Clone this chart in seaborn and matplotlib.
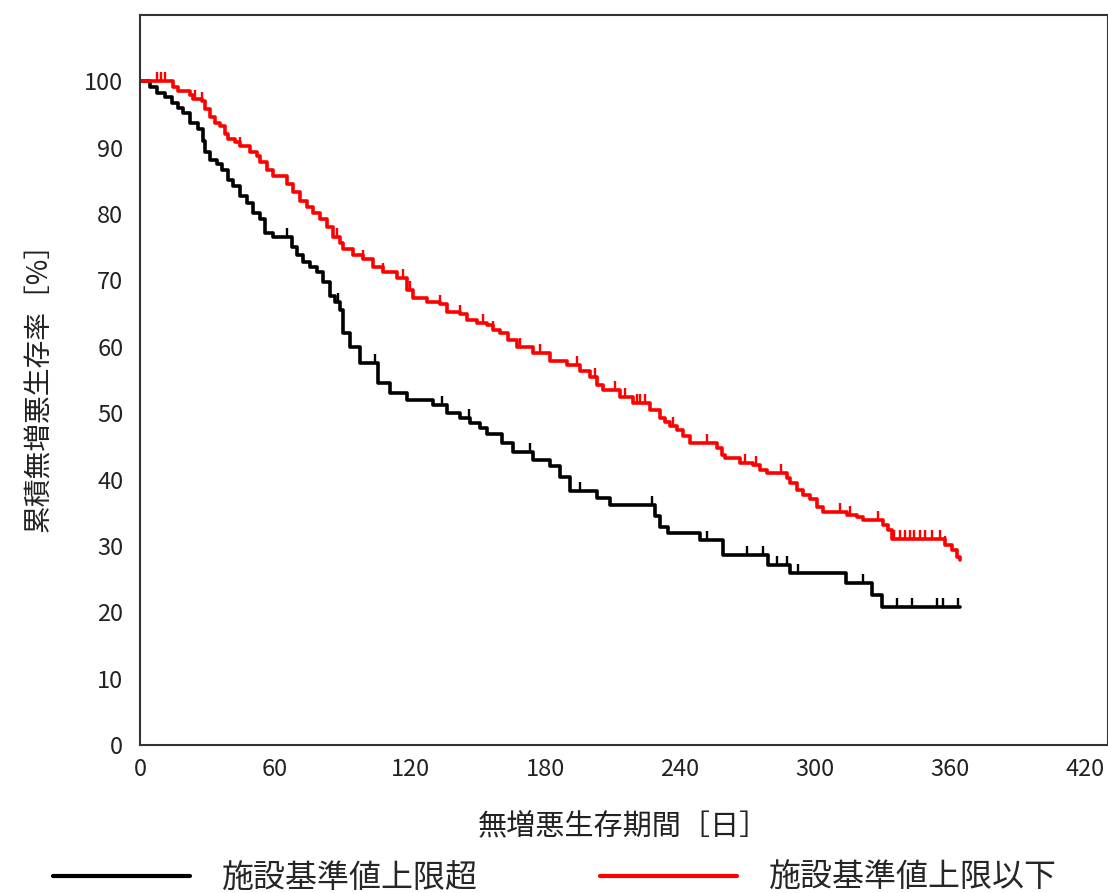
import numpy as np
import pandas as pd
import matplotlib
matplotlib.use("Agg")
import matplotlib.pyplot as plt
from matplotlib.lines import Line2D
import seaborn as sns

# ---- data ----
black_label = "施設基準値上限超"
red_label = "施設基準値上限以下"

black_t = [0, 4.4, 7.6, 11.1, 14.2, 16.9, 19.1, 22.2, 25.8, 28.0, 28.9, 31.1, 34.2, 36.4, 39.1,
           41.3, 44.4, 47.6, 50.2, 53.3, 55.6, 59.1, 67.6, 69.8, 72.4, 75.6, 78.7, 81.3, 84.4,
           86.7, 88.9, 90.2, 93.3, 97.8, 105.8, 111.1, 118.7, 130.2, 136.4, 142.2, 146.7, 151.1,
           154.2, 160.9, 165.8, 174.7, 182.2, 186.7, 191.1, 203.1, 208.9, 228.9, 231.1, 234.7,
           248.9, 259.1, 279.1, 288.9, 313.8, 325.3, 329.8, 364.4]
black_s = [100, 99.2, 98.3, 97.6, 96.8, 96.0, 95.3, 93.8, 92.8, 91.0, 89.3, 88.2, 87.5, 86.7, 85.2,
           84.2, 82.7, 81.7, 80.2, 79.2, 77.2, 76.5, 75.1, 73.9, 72.8, 72.0, 71.2, 69.8, 67.6,
           66.8, 65.6, 62.1, 60.0, 57.6, 54.6, 53.1, 52.0, 51.3, 50.1, 49.3, 48.5, 47.8,
           46.8, 45.5, 44.2, 43.0, 42.0, 40.4, 38.2, 37.2, 36.2, 34.5, 32.9, 32.0,
           30.9, 28.7, 27.1, 25.9, 24.4, 22.6, 20.8, 20.8]
black_cens = [65.3, 88.0, 104.4, 134.2, 146.0, 173.3, 195.6, 227.6, 252.0, 269.8, 276.9, 283.1,
              287.6, 292.4, 321.3, 336.4, 343.1, 354.2, 356.9, 363.6]

red_t = [0, 14.7, 16.9, 22.2, 23.6, 27.6, 28.9, 31.1, 33.3, 35.6, 37.8, 39.1, 42.2, 44.4, 48.9,
         52.0, 53.3, 56.4, 59.1, 65.3, 68.0, 71.1, 74.2, 76.9, 80.0, 83.1, 85.8, 88.9, 90.2,
         94.7, 99.1, 103.6, 108.0, 114.2, 118.7, 121.3, 127.6, 133.3, 136.4, 142.2, 145.3,
         149.8, 154.2, 156.9, 160.0, 163.6, 167.6, 174.7, 182.2, 189.8, 195.6, 200.0, 203.1,
         205.8, 213.3, 219.1, 226.7, 231.1, 233.3, 235.6, 238.7, 241.3, 244.4, 256.4, 258.7,
         260.0, 266.7, 272.4, 275.6, 278.7, 287.6, 288.9, 292.0, 294.7, 297.8, 300.9, 303.6,
         314.2, 318.7, 321.3, 330.2, 332.4, 334.2, 357.8, 360.9, 363.1, 364.4]
red_s = [100, 99.1, 98.5, 98.0, 97.3, 97.0, 95.8, 94.7, 93.8, 93.2, 92.0, 91.3, 90.8, 90.2, 89.4,
         88.7, 87.8, 86.7, 85.7, 84.5, 83.3, 81.9, 81.1, 80.2, 79.2, 78.1, 76.6, 75.7, 74.7,
         73.9, 73.2, 72.1, 71.2, 70.4, 68.6, 67.4, 66.8, 66.4, 65.3, 64.9, 64.1,
         63.6, 63.3, 62.6, 62.1, 61.1, 60.0, 59.1, 57.8, 57.3, 56.3, 55.5, 54.3,
         53.5, 52.5, 51.6, 50.5, 49.3, 48.6, 48.0, 47.5, 46.5, 45.5, 44.8, 43.7,
         43.2, 42.5, 42.2, 41.5, 41.0, 40.3, 39.5, 38.5, 37.7, 37.0, 35.9, 35.1,
         34.7, 34.4, 33.9, 33.2, 32.4, 31.0, 30.2, 29.4, 28.4, 27.9]
red_cens = [7.6, 9.3, 11.1, 24.4, 27.6, 44.4, 87.6, 99.1, 108.0, 116.9, 120.0, 133.3, 142.2,
            152.4, 156.9, 168.9, 177.8, 194.2, 202.2, 211.1, 215.6, 220.9, 222.2, 224.4, 236.9,
            252.0, 268.9, 273.8, 284.9, 311.1, 315.6, 328.0, 335.3, 337.6, 339.8, 342.0, 344.2,
            346.7, 348.9, 352.0, 355.6, 357.8]

x_ticks = [0, 60, 120, 180, 240, 300, 360, 420]
y_ticks = [0, 10, 20, 30, 40, 50, 60, 70, 80, 90, 100]
x_label = "無増悪生存期間［日］"
y_label = "累積無増悪生存率［%］"

# ---- styling ----
sns.set_style("white")
plt.rcParams['font.family'] = ['Noto Sans CJK JP', 'DejaVu Sans']

W, H = 1108, 893
fig = plt.figure(figsize=(W / 100, H / 100), dpi=100)
ax = fig.add_axes([140 / W, (H - 745) / H, 967.5 / W, 730 / H])

tick_marker = [(0, 0), (0, 1)]


def draw(t, s, cens, color):
    df = pd.DataFrame({"t": t, "s": s})
    sns.lineplot(data=df, x="t", y="s", ax=ax, color=color, lw=2.6,
                 drawstyle="steps-post", estimator=None, sort=False)
    t_arr = np.asarray(t)
    s_arr = np.asarray(s)
    idx = np.searchsorted(t_arr, cens, side="right") - 1
    cy = s_arr[idx]
    ax.plot(cens, cy, linestyle="none", marker=tick_marker, markersize=13,
            markeredgewidth=1.7, color=color)


draw(black_t, black_s, black_cens, "black")
draw(red_t, red_s, red_cens, "#ff0000")

ax.set_xlim(0, 430)
ax.set_ylim(0, 110)
ax.set_xticks(x_ticks)
ax.set_yticks(y_ticks)
ax.tick_params(axis="both", direction="in", length=10, width=1.2, colors="#333333",
               labelsize=17, labelcolor="#222222", top=False, right=False)
ax.tick_params(axis="y", pad=12)
ax.tick_params(axis="x", pad=9)
for sp in ax.spines.values():
    sp.set_visible(True)
    sp.set_linewidth(1.5)
    sp.set_color("#333333")

ax.set_xlabel(x_label, fontsize=21, labelpad=22, color="#222222")
ax.set_ylabel(y_label, fontsize=20, labelpad=22, color="#222222")

handles = [Line2D([], [], color="black", lw=3), Line2D([], [], color="#ff0000", lw=3)]
fig.legend(handles, [black_label, red_label], loc="center",
           bbox_to_anchor=(555 / W, (H - 878) / H), ncol=2, frameon=False,
           fontsize=23, handlelength=4.3, handletextpad=1.0, columnspacing=3.8,
           borderaxespad=0, borderpad=0)

fig.savefig("out.png", dpi=100)
